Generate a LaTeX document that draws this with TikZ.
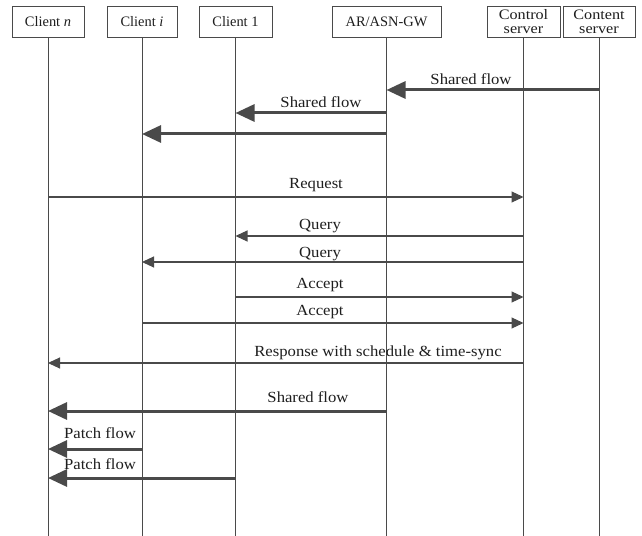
\documentclass[tikz,border=0pt]{standalone}
\usepackage{fontspec}
\setmainfont{Liberation Serif}
\newfontfamily\lblfont{Liberation Serif}[FakeStretch=1.08]
\newfontfamily\srvfont{Liberation Serif}[FakeStretch=1.12]
\usetikzlibrary{arrows.meta}
\definecolor{ln}{HTML}{4A4A4A}
\definecolor{tx}{HTML}{1E1E1E}
\begin{document}
\begin{tikzpicture}[x=1bp,y=-1bp,
  actor/.style={draw=ln, line width=0.9bp, minimum height=31bp, inner sep=0pt, text=tx,
    font=\fontsize{14.5}{15}\selectfont},
  srv/.style={actor, align=center, font=\srvfont\fontsize{14.5}{14}\selectfont},
  life/.style={draw=ln, line width=0.9bp},
  big/.style={draw=ln, line width=3bp, -{Triangle[length=19bp,width=17bp]}},
  thin/.style={draw=ln, line width=1.1bp, -{Triangle[length=12bp,width=11bp]}},
  lbl/.style={anchor=base, inner sep=0pt, text=tx, font=\lblfont\fontsize{15.5}{17}\selectfont}]
\useasboundingbox (0,0) rectangle (642,536);
\fill[white] (0,0) rectangle (642,536);
% actors
\node[actor, minimum width=72bp] (cn) at (48,21.5) {Client \textit{n}};
\node[actor, minimum width=70bp] (ci) at (142,21.5) {Client \textit{i}};
\node[actor, minimum width=73bp] (c1) at (235.5,21.5) {Client 1};
\node[actor, minimum width=109bp] (ar) at (386.5,21.5) {AR/ASN-GW};
\node[srv, minimum width=73bp] (cs) at (523.5,21.5) {Control\\server};
\node[srv, minimum width=72bp] (ct) at (599,21.5) {Content\\server};
% levels
\coordinate (bot) at (0,536);
\coordinate (m1) at (0,90);
\coordinate (m2) at (0,113);
\coordinate (m3) at (0,134);
\coordinate (m4) at (0,197);
\coordinate (m5) at (0,236);
\coordinate (m6) at (0,262);
\coordinate (m7) at (0,297);
\coordinate (m8) at (0,323);
\coordinate (m9) at (0,363);
\coordinate (m10) at (0,411);
\coordinate (m11) at (0,449);
\coordinate (m12) at (0,478);
% lifelines
\foreach \a in {cn,ci,c1,ar,cs,ct}{\draw[life] (\a.south) -- (\a.south |- bot);}
% messages
\draw[big] (ct.south |- m1) -- (ar.south |- m1);
\draw[big] (ar.south |- m2) -- (c1.south |- m2);
\draw[big] (ar.south |- m3) -- (ci.south |- m3);
\draw[thin] (cn.south |- m4) -- (cs.south |- m4);
\draw[thin] (cs.south |- m5) -- (c1.south |- m5);
\draw[thin] (cs.south |- m6) -- (ci.south |- m6);
\draw[thin] (c1.south |- m7) -- (cs.south |- m7);
\draw[thin] (ci.south |- m8) -- (cs.south |- m8);
\draw[thin] (cs.south |- m9) -- (cn.south |- m9);
\draw[big] (ar.south |- m10) -- (cn.south |- m10);
\draw[big] (ci.south |- m11) -- (cn.south |- m11);
\draw[big] (c1.south |- m12) -- (cn.south |- m12);
% labels
\node[lbl] (l1) at (471,85) {Shared flow};
\node[lbl] (l2) at (321,108) {Shared flow};
\node[lbl] (l4) at (316,189) {Request};
\node[lbl] (l5) at (320,230) {Query};
\node[lbl] (l6) at (320,257) {Query};
\node[lbl] (l7) at (320,288) {Accept};
\node[lbl] (l8) at (320,315) {Accept};
\node[lbl] (l9) at (378,356) {Response with schedule \& time-sync};
\node[lbl] (l10) at (308,402) {Shared flow};
\node[lbl] (l11) at (100,438) {Patch flow};
\node[lbl] (l12) at (100,469) {Patch flow};
\end{tikzpicture}
\end{document}
